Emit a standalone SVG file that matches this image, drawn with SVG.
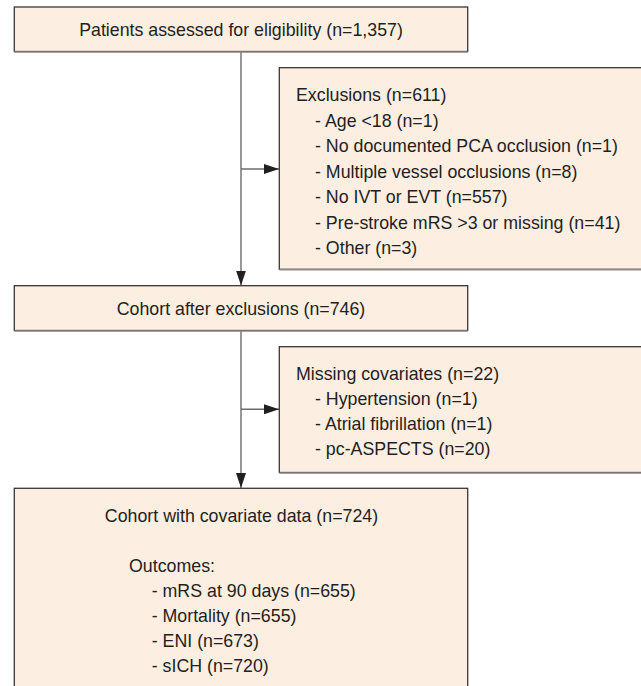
<svg xmlns="http://www.w3.org/2000/svg" width="641" height="686" viewBox="0 0 641 686">
<style>
.box{fill:#fdeee2;stroke:#3a3636;stroke-width:1.3}
.shadow{stroke:#8f8b8b;stroke-width:1.6;fill:none}
.conn{stroke:#6e6c6c;stroke-width:1.4;fill:none}
text{font-family:"Liberation Sans",Arial,sans-serif;font-size:17.8px;fill:#231f20}
.c{text-anchor:middle}
</style>
<defs>
<marker id="ah" viewBox="0 0 15 10" refX="15" refY="5" markerWidth="15" markerHeight="10" markerUnits="userSpaceOnUse" orient="auto">
<path d="M0,0 L15,5 L0,10 Z" fill="#231f20"/>
</marker>
</defs>
<rect width="641" height="686" fill="#ffffff"/>
<g id="connectors">
<line class="conn" x1="241" y1="52" x2="241" y2="285.5" marker-end="url(#ah)"/>
<line class="conn" x1="241" y1="169" x2="279" y2="169" marker-end="url(#ah)"/>
<line class="conn" x1="241" y1="331" x2="241" y2="488" marker-end="url(#ah)"/>
<line class="conn" x1="241" y1="409.3" x2="279" y2="409.3" marker-end="url(#ah)"/>
</g>
<g id="n1">
<rect class="box" x="14.3" y="7" width="453.4" height="44.5"/>
<line class="shadow" x1="14.3" y1="52" x2="467.7" y2="52"/>
<text class="c" x="241" y="36">Patients assessed for eligibility (n=1,357)</text>
</g>
<g id="n2">
<rect class="box" x="279.3" y="67.7" width="380" height="201.6"/>
<line class="shadow" x1="279.3" y1="269.8" x2="641" y2="269.8"/>
<text x="296" y="101">Exclusions (n=611)</text>
<text x="315" y="126.5">- Age &lt;18 (n=1)</text>
<text x="315" y="152">- No documented PCA occlusion (n=1)</text>
<text x="315" y="177.5">- Multiple vessel occlusions (n=8)</text>
<text x="315" y="203">- No IVT or EVT (n=557)</text>
<text x="315" y="228.5">- Pre-stroke mRS &gt;3 or missing (n=41)</text>
<text x="315" y="254">- Other (n=3)</text>
</g>
<g id="n3">
<rect class="box" x="14.3" y="285.7" width="453.4" height="44.8"/>
<line class="shadow" x1="14.3" y1="331" x2="467.7" y2="331"/>
<text class="c" x="241" y="314.5">Cohort after exclusions (n=746)</text>
</g>
<g id="n4">
<rect class="box" x="279.3" y="346.7" width="380" height="125.8"/>
<line class="shadow" x1="279.3" y1="473" x2="641" y2="473"/>
<text x="296" y="379.5">Missing covariates (n=22)</text>
<text x="315" y="405">- Hypertension (n=1)</text>
<text x="315" y="430">- Atrial fibrillation (n=1)</text>
<text x="315" y="455">- pc-ASPECTS (n=20)</text>
</g>
<g id="n5">
<rect class="box" x="14.3" y="488.3" width="453.4" height="220"/>
<text class="c" x="241.5" y="521.7">Cohort with covariate data (n=724)</text>
<text x="129" y="571.7">Outcomes:</text>
<text x="151.7" y="596.7">- mRS at 90 days (n=655)</text>
<text x="151.7" y="621.7">- Mortality (n=655)</text>
<text x="151.7" y="646.7">- ENI (n=673)</text>
<text x="151.7" y="671.7">- sICH (n=720)</text>
</g>
</svg>
